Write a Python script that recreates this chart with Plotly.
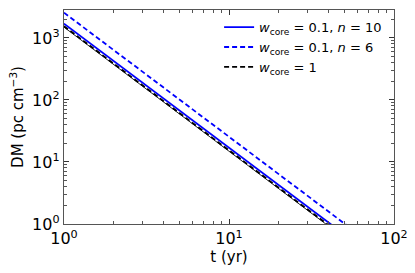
import plotly.graph_objects as go

t = [1, 100]
dm_blue_n10 = [1700, 0.17]
dm_blue_n6 = [2550, 0.255]
dm_black_core1 = [1540, 0.154]
dm_black_solid = [1490, 0.149]

xticks = [1, 10, 100]
xticktext = ["10<sup>0</sup>", "10<sup>1</sup>", "10<sup>2</sup>"]
yticks = [1, 10, 100, 1000]
yticktext = ["10<sup>0</sup>", "10<sup>1</sup>", "10<sup>2</sup>", "10<sup>3</sup>"]
xminor = [2, 3, 4, 5, 6, 7, 8, 9, 20, 30, 40, 50, 60, 70, 80, 90]
yminor = [2, 3, 4, 5, 6, 7, 8, 9, 20, 30, 40, 50, 60, 70, 80, 90,
          200, 300, 400, 500, 600, 700, 800, 900, 2000]

fig = go.Figure()
fig.add_trace(go.Scatter(x=t, y=dm_black_solid, mode="lines", line=dict(color="#222222", width=1.0),
                         showlegend=False))
fig.add_trace(go.Scatter(x=t, y=dm_blue_n10, mode="lines", line=dict(color="#0000ff", width=1.8),
                         name="<i>w</i><sub>core</sub> = 0.1, <i>n</i> = 10"))
fig.add_trace(go.Scatter(x=t, y=dm_blue_n6, mode="lines", line=dict(color="#0000ff", width=1.8, dash="5px,3px"),
                         name="<i>w</i><sub>core</sub> = 0.1, <i>n</i> = 6"))
fig.add_trace(go.Scatter(x=t, y=dm_black_core1, mode="lines", line=dict(color="black", width=1.8, dash="5px,3px"),
                         name="<i>w</i><sub>core</sub> = 1"))

axis_common = dict(type="log", showgrid=False, zeroline=False, showline=True, linecolor="#555555", linewidth=1.2,
                   mirror="ticks", ticks="inside", ticklen=5, tickcolor="#333333", automargin=False,
                   tickfont=dict(family="DejaVu Sans", size=16, color="black"))
fig.update_xaxes(range=[0, 2], tickvals=xticks, ticktext=xticktext,
                 minor=dict(ticks="inside", ticklen=3, tickcolor="#555555", showgrid=False, tickvals=xminor),
                 title=dict(text="t (yr)", font=dict(family="DejaVu Sans", size=15, color="black"), standoff=2),
                 **axis_common)
fig.update_yaxes(range=[0, 3.45], tickvals=yticks, ticktext=yticktext,
                 minor=dict(ticks="inside", ticklen=3, tickcolor="#555555", showgrid=False, tickvals=yminor),
                 title=dict(text="DM (pc cm<sup>−3</sup>)", font=dict(family="DejaVu Sans", size=15, color="black"), standoff=4),
                 **axis_common)

fig.update_layout(width=415, height=273, margin=dict(l=64, r=21, t=10, b=49),
                  plot_bgcolor="white", paper_bgcolor="white",
                  legend=dict(x=0.47, y=0.99, xanchor="left", yanchor="top", bgcolor="rgba(0,0,0,0)",
                              font=dict(family="DejaVu Sans", size=13, color="black"),
                              tracegroupgap=0, itemwidth=30))
fig.write_html("out.html", config={"staticPlot": True, "displayModeBar": False},
               post_script="document.body.style.margin='0';document.body.style.overflow='hidden';"
                           "document.documentElement.style.overflow='hidden';")
